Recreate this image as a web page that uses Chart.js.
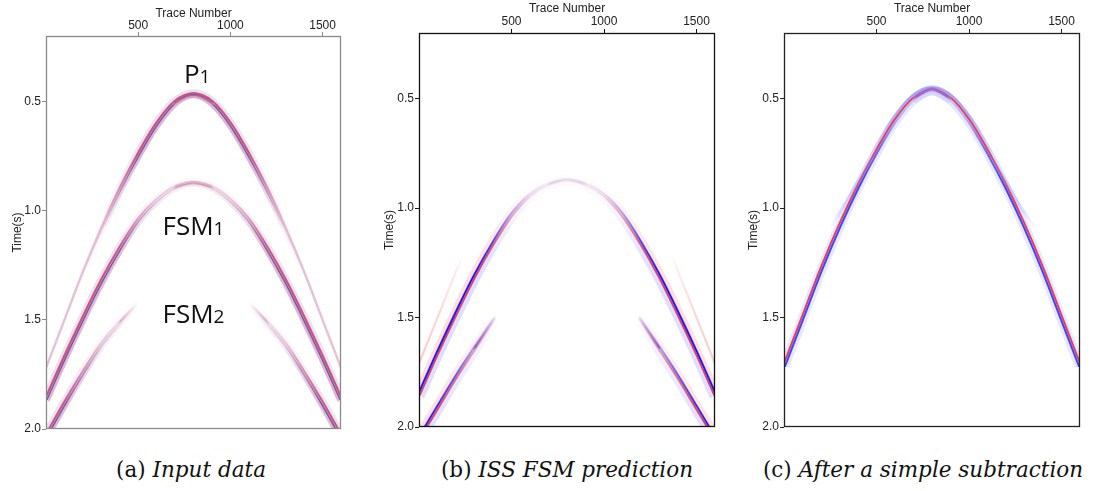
<!DOCTYPE html>
<html>
<head>
<meta charset="utf-8">
<script src="https://cdn.jsdelivr.net/npm/chart.js@4.4.1/dist/chart.umd.min.js"></script>
<style>
  body { margin: 0; background: #fff; width: 1099px; height: 491px; position: relative; overflow: hidden; }
  canvas { position: absolute; top: 0; }
  .cap { position: absolute; top: 457px; font-family: "DejaVu Serif", serif; font-size: 21.5px; color: #111; white-space: nowrap; transform: translateX(-50%); }
  .cap i { font-style: italic; }
</style>
</head>
<body>
<canvas id="chartA" width="355" height="440" style="left:0px"></canvas>
<canvas id="chartB" width="360" height="440" style="left:365px"></canvas>
<canvas id="chartC" width="369" height="440" style="left:730px"></canvas>
<div class="cap" style="left:191px">(a) <i>Input data</i></div>
<div class="cap" style="left:567px">(b) <i>ISS FSM prediction</i></div>
<div class="cap" style="left:923px">(c) <i>After a simple subtraction</i></div>
<script>
// trace positions used for every full event
const traces = [0, 100, 200, 300, 400, 500, 600, 700, 800, 900, 1000, 1100, 1200, 1300, 1400, 1500, 1600];
const xTicks = [500, 1000, 1500];
const yTicks = [0.5, 1.0, 1.5, 2.0];

// (a) input data
const p1TimeA = [1.72, 1.50, 1.28, 1.08, 0.90, 0.74, 0.60, 0.50, 0.465, 0.50, 0.60, 0.74, 0.90, 1.08, 1.28, 1.50, 1.72];
const p1AmpA = [0, 0, 0, 0.1, 0.5, 1, 1, 1, 1, 1, 1, 1, 0.5, 0.1, 0, 0, 0];
const p1FaintAmpA = [1, 1, 1, 0.9, 0.5, 0, 0, 0, 0, 0, 0, 0, 0.5, 0.9, 1, 1, 1];
const fsm1TimeA = [1.86, 1.67, 1.49, 1.32, 1.17, 1.04, 0.95, 0.89, 0.87, 0.89, 0.95, 1.04, 1.17, 1.32, 1.49, 1.67, 1.86];
const fsm1AmpA = [1, 1, 1, 1, 0.9, 0.45, 0.25, 0.2, 0.2, 0.2, 0.25, 0.45, 0.9, 1, 1, 1, 1];
const fsm2LeftTraceA = [0, 100, 200, 300, 400, 500];
const fsm2LeftTimeA = [2.03, 1.88, 1.74, 1.61, 1.51, 1.42];
const fsm2LeftAmpA = [1, 0.95, 0.55, 0.25, 0.15, 0];
const fsm2RightTraceA = [1100, 1200, 1300, 1400, 1500, 1600];
const fsm2RightTimeA = [1.42, 1.51, 1.61, 1.74, 1.88, 2.03];
const fsm2RightAmpA = [0, 0.15, 0.25, 0.55, 0.95, 1];

// (b) ISS FSM prediction
const fsm1TimeB = [1.85, 1.66, 1.48, 1.31, 1.16, 1.03, 0.94, 0.89, 0.87, 0.89, 0.94, 1.03, 1.16, 1.31, 1.48, 1.66, 1.85];
const fsm1AmpB = [1, 1, 1, 1, 0.8, 0.4, 0.15, 0.08, 0.06, 0.08, 0.15, 0.4, 0.8, 1, 1, 1, 1];
const ghostLeftTraceB = [0, 100, 200, 240];
const ghostLeftTimeB = [1.71, 1.50, 1.29, 1.21];
const ghostRightTraceB = [1360, 1400, 1500, 1600];
const ghostRightTimeB = [1.21, 1.29, 1.50, 1.71];
const ghostAmpLeftB = [1, 0.8, 0.4, 0];
const ghostAmpRightB = [0, 0.4, 0.8, 1];
const fsm2LeftTraceB = [0, 100, 200, 300, 410];
const fsm2LeftTimeB = [2.05, 1.91, 1.77, 1.64, 1.50];
const fsm2LeftAmpB = [1, 0.9, 0.7, 0.4, 0.05];
const fsm2RightTraceB = [1190, 1300, 1400, 1500, 1600];
const fsm2RightTimeB = [1.50, 1.64, 1.77, 1.91, 2.05];
const fsm2RightAmpB = [0.05, 0.4, 0.7, 0.9, 1];

// (c) after a simple subtraction
const p1TimeC = [1.72, 1.50, 1.28, 1.08, 0.90, 0.74, 0.60, 0.50, 0.46, 0.50, 0.60, 0.74, 0.90, 1.08, 1.28, 1.50, 1.72];
const p1AmpC = [1, 1, 1, 1, 1, 1, 1, 1, 1, 1, 1, 1, 1, 1, 1, 1, 1];
const p1UpperLobeC = [0, 0, 0, 0, 0, 0.3, 0.8, 1, 1, 1, 0.8, 0.3, 0, 0, 0, 0, 0];
const p1LowerLobeC = [1, 1, 1, 1, 1, 0.8, 0.4, 0.2, 0.15, 0.2, 0.4, 0.8, 1, 1, 1, 1, 1];
const residLeftTraceC = [250, 300, 400, 480];
const residLeftTimeC = [1.09, 1.02, 0.88, 0.77];
const residRightTraceC = [1120, 1200, 1300, 1360];
const residRightTimeC = [0.77, 0.88, 1.02, 1.09];
const residAmpLeftC = [0, 0.6, 0.8, 0.5];
const residAmpRightC = [0.5, 0.8, 0.6, 0];

const rgba = (rgb, a) => `rgba(${rgb[0]},${rgb[1]},${rgb[2]},${Math.max(0, Math.min(1, a))})`;

function ampGradient(chart, xs, amps, rgb, alpha) {
  const area = chart.chartArea;
  const sx = chart.scales.x;
  if (!area || !sx) return rgba(rgb, alpha);
  const g = chart.ctx.createLinearGradient(sx.getPixelForValue(0), 0, sx.getPixelForValue(1600), 0);
  xs.forEach((t, i) => g.addColorStop(t / 1600, rgba(rgb, amps[i] * alpha)));
  return g;
}

// one line of an event; split at its apex so that each flank can be
// nudged sideways (offset > 0 means towards later time)
function layer(xs, ts, amps, rgb, alpha, width, offset) {
  let apex = 0;
  ts.forEach((t, i) => { if (t < ts[apex]) apex = i; });
  const last = xs.length - 1;
  const parts = [];
  const make = (from, to, side) => {
    if (to - from < 1) return;
    const idx = [];
    for (let i = from; i <= to; i++) idx.push(i);
    parts.push({
      data: idx.map(i => ({ x: xs[i], y: ts[i] })),
      pointRadius: 0,
      borderWidth: width,
      shiftX: side * offset * 0.7,
      shiftY: offset * 0.8,
      clip: false,
      cubicInterpolationMode: 'monotone',
      borderColor: ctx => ampGradient(ctx.chart, xs, amps, rgb, alpha)
    });
  };
  if (offset === 0) {
    make(0, last, 0);
  } else {
    // halves overlap by one step round the apex so no notch shows there
    make(0, Math.min(apex + 1, last), 1);
    make(Math.max(apex - 1, 0), last, -1);
  }
  return parts;
}

function eventA(xs, ts, amps) {
  return [].concat(
    layer(xs, ts, amps, [190, 170, 228], 0.35, 9, 0),
    layer(xs, ts, amps, [240, 115, 135], 0.5, 2.5, 3.4),
    layer(xs, ts, amps, [50, 50, 160], 1, 1.6, 1.5),
    layer(xs, ts, amps, [230, 30, 50], 1, 2.2, -0.6)
  );
}
function eventB(xs, ts, amps) {
  return [].concat(
    layer(xs, ts, amps, [255, 160, 160], 0.35, 4, -3.5),
    layer(xs, ts, amps, [160, 160, 255], 0.35, 6, 3.5),
    layer(xs, ts, amps, [20, 20, 255], 1, 2, -0.9),
    layer(xs, ts, amps, [255, 15, 15], 1, 2, 1.1)
  );
}
function eventC(xs, ts, amps) {
  return [].concat(
    layer(xs, ts, amps, [175, 175, 255], 0.3, 10, 0.5),
    layer(xs, ts, p1UpperLobeC, [40, 40, 255], 0.5, 2, -3),
    layer(xs, ts, p1LowerLobeC, [20, 20, 255], 1, 2, 1.3),
    layer(xs, ts, amps, [255, 15, 15], 1, 2, -0.9)
  );
}
function faint(xs, ts, amps, rgb, alpha, width) {
  return layer(xs, ts, amps, rgb, alpha, width, 0);
}

const shiftPlugin = {
  id: 'shiftPlugin',
  beforeDatasetDraw(chart, args) {
    const ds = chart.data.datasets[args.index];
    const a = chart.chartArea;
    const ctx = chart.ctx;
    ctx.save();
    ctx.beginPath();
    ctx.rect(a.left, a.top, a.right - a.left, a.bottom - a.top);
    ctx.clip();
    ctx.translate(ds.shiftX || 0, ds.shiftY || 0);
  },
  afterDatasetDraw(chart) {
    chart.ctx.restore();
  }
};

const framePlugin = {
  id: 'framePlugin',
  afterDatasetsDraw(chart, args, opts) {
    const a = chart.chartArea;
    const ctx = chart.ctx;
    ctx.save();
    ctx.strokeStyle = opts.color;
    ctx.lineWidth = opts.width;
    ctx.strokeRect(a.left + 0.5, a.top + 0.5, a.right - a.left - 1, a.bottom - a.top - 1);
    ctx.restore();
  }
};

const labelPlugin = {
  id: 'labelPlugin',
  afterDatasetsDraw(chart, args, opts) {
    if (!opts.items) return;
    const ctx = chart.ctx;
    const sx = chart.scales.x, sy = chart.scales.y;
    ctx.save();
    ctx.fillStyle = '#111';
    ctx.textBaseline = 'alphabetic';
    opts.items.forEach(it => {
      const big = '26px "Open Sans", sans-serif';
      const small = '19px "Open Sans", sans-serif';
      ctx.font = big;
      const w1 = ctx.measureText(it.main).width;
      ctx.font = small;
      const w2 = ctx.measureText(it.sub).width;
      const x0 = sx.getPixelForValue(it.trace) - (w1 + w2) / 2;
      const y0 = sy.getPixelForValue(it.time);
      ctx.font = big;
      ctx.fillText(it.main, x0, y0);
      ctx.font = small;
      ctx.fillText(it.sub, x0 + w1, y0);
    });
    ctx.restore();
  }
};

Chart.defaults.font.family = '"Liberation Sans", Arial, sans-serif';
Chart.defaults.color = '#222';

function makeChart(id, datasets, cfg) {
  return new Chart(document.getElementById(id), {
    type: 'line',
    data: { datasets: datasets },
    plugins: [shiftPlugin, framePlugin, labelPlugin],
    options: {
      responsive: false,
      animation: false,
      events: [],
      layout: { padding: { left: cfg.padLeft, top: cfg.padTop, right: cfg.padRight, bottom: cfg.padBottom } },
      plugins: {
        legend: { display: false },
        tooltip: { enabled: false },
        framePlugin: { color: cfg.frame, width: 1.3 },
        labelPlugin: { items: cfg.labels }
      },
      scales: {
        x: {
          type: 'linear',
          position: 'top',
          min: 0,
          max: 1600,
          afterBuildTicks: s => { s.ticks = xTicks.map(v => ({ value: v })); },
          afterFit: s => { s.height = cfg.top - cfg.padTop; },
          ticks: { font: { size: 12 }, padding: cfg.xPad, maxRotation: 0, color: '#222', callback: v => String(v) },
          grid: { drawOnChartArea: false, drawTicks: true, tickLength: 4, color: cfg.frame },
          border: { display: false },
          title: { display: true, text: 'Trace Number', font: { size: 12 }, padding: { top: 0, bottom: 0 }, color: '#222' }
        },
        y: {
          type: 'linear',
          reverse: true,
          min: 0.2,
          max: 2.0,
          afterBuildTicks: s => { s.ticks = yTicks.map(v => ({ value: v })); },
          afterFit: s => { s.width = cfg.left - cfg.padLeft; },
          ticks: { font: { size: 12 }, padding: 1, callback: v => v.toFixed(1), color: '#222' },
          grid: { drawOnChartArea: false, drawTicks: true, tickLength: 4, color: cfg.frame },
          border: { display: false },
          title: { display: true, text: 'Time(s)', font: { size: 12 }, padding: { top: 0, bottom: 0 }, color: '#222' }
        }
      }
    }
  });
}

const dataA = [].concat(
  faint(traces, p1TimeA, p1FaintAmpA, [200, 120, 165], 0.45, 2.5),
  eventA(traces, p1TimeA, p1AmpA),
  eventA(traces, fsm1TimeA, fsm1AmpA),
  eventA(fsm2LeftTraceA, fsm2LeftTimeA, fsm2LeftAmpA),
  eventA(fsm2RightTraceA, fsm2RightTimeA, fsm2RightAmpA)
);
const dataB = [].concat(
  faint(ghostLeftTraceB, ghostLeftTimeB, ghostAmpLeftB, [255, 120, 120], 0.4, 2),
  faint(ghostRightTraceB, ghostRightTimeB, ghostAmpRightB, [255, 120, 120], 0.4, 2),
  eventB(traces, fsm1TimeB, fsm1AmpB),
  eventB(fsm2LeftTraceB, fsm2LeftTimeB, fsm2LeftAmpB),
  eventB(fsm2RightTraceB, fsm2RightTimeB, fsm2RightAmpB)
);
const dataC = [].concat(
  faint(residLeftTraceC, residLeftTimeC, residAmpLeftC, [140, 140, 255], 0.45, 3),
  faint(residRightTraceC, residRightTimeC, residAmpRightC, [140, 140, 255], 0.45, 3),
  eventC(traces, p1TimeC, p1AmpC)
);

makeChart('chartA', dataA, {
  left: 46, top: 36, padLeft: 10, padTop: 6, padRight: 14, padBottom: 11, xPad: -1, frame: '#8a8a8a',
  labels: [
    { main: 'P', sub: '1', trace: 820, time: 0.413 },
    { main: 'FSM', sub: '1', trace: 800, time: 1.11 },
    { main: 'FSM', sub: '2', trace: 800, time: 1.515 }
  ]
});
makeChart('chartB', dataB, { left: 54, top: 33, padLeft: 17, padTop: 1, padRight: 10, padBottom: 13, xPad: 0, frame: '#111' });
makeChart('chartC', dataC, { left: 54, top: 33, padLeft: 16, padTop: 1, padRight: 19, padBottom: 13, xPad: 0, frame: '#222' });
</script>
</body>
</html>
